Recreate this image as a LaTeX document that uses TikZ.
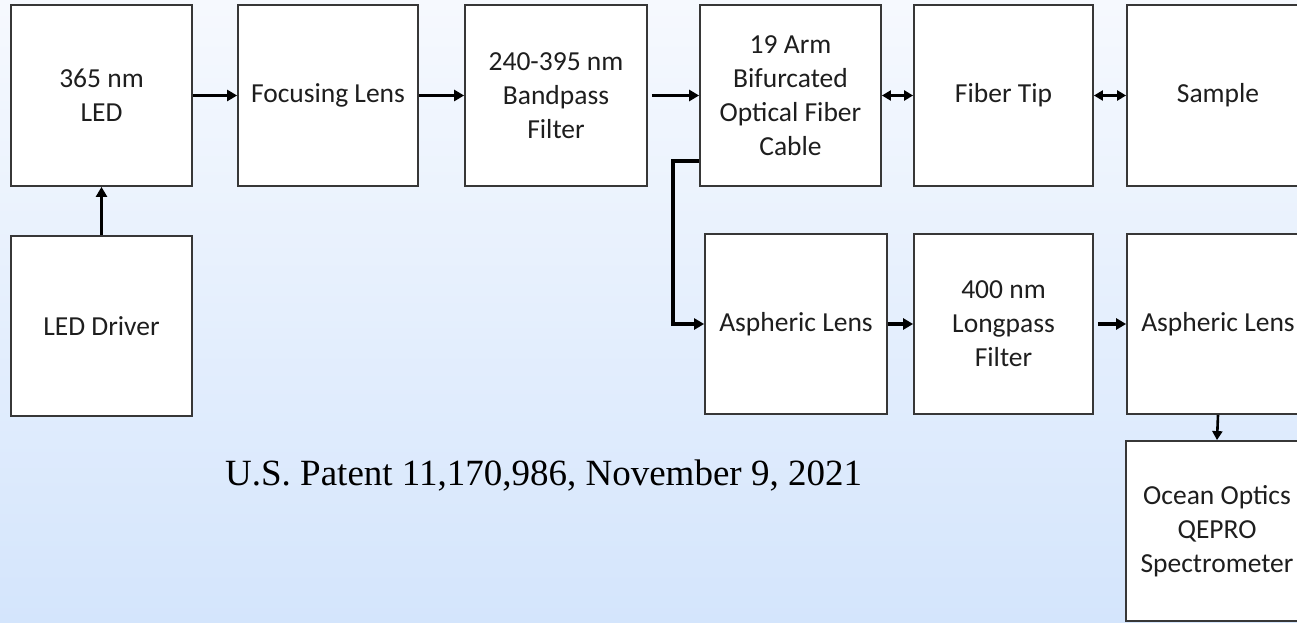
\documentclass[tikz,border=0pt]{standalone}
\usepackage{fontspec}
\setmainfont{Carlito}
\newfontfamily\patentfont{Liberation Serif}
\usetikzlibrary{arrows.meta}
\definecolor{boxc}{RGB}{55,55,55}
\definecolor{textc}{RGB}{30,30,30}
\definecolor{bgtop}{RGB}{246,249,254}
\definecolor{bgbot}{RGB}{212,229,252}
\tikzset{
  box/.style={draw=boxc, line width=1.8pt, fill=white, minimum width=181pt, minimum height=181pt,
    inner sep=0pt, align=center, text=textc, font=\fontsize{27.5}{34}\selectfont},
  arr/.style={line width=3.4pt, -{Triangle[length=10pt,width=11pt]}},
  darr/.style={line width=2.6pt, {Triangle[length=9pt,width=10pt]}-{Triangle[length=9pt,width=10pt]}},
  tarr/.style={line width=2.6pt, -{Triangle[length=9pt,width=10pt]}},
}
\begin{document}
\begin{tikzpicture}[x=1pt,y=-1pt]
\useasboundingbox (0,0) rectangle (1297,623);
\shade[top color=bgtop, bottom color=bgbot] (0,0) rectangle (1297,623);
\clip (0,0) rectangle (1297,623);
\node[box] (led) at (101.5,95.5) {365 nm\\LED};
\node[box, minimum width=180pt] (focus) at (328,95.5) {Focusing Lens};
\node[box, minimum width=182pt] (band) at (556,95.5) {240-395 nm\\Bandpass\\Filter};
\node[box] (bif) at (790.5,95.5) {19 Arm\\Bifurcated\\Optical Fiber\\Cable};
\node[box, minimum width=179pt] (tip) at (1003.5,95.5) {Fiber Tip};
\node[box, minimum width=182pt] (sample) at (1218,95.5) {Sample};
\node[box, minimum height=180pt] (driver) at (101.5,326) {LED Driver};
\node[box, minimum width=182pt, minimum height=180pt] (asph1) at (796,324) {Aspheric Lens};
\node[box, minimum width=179pt, minimum height=180pt] (lp) at (1003.5,324) {400 nm\\Longpass\\Filter};
\node[box, minimum width=182pt, minimum height=180pt] (asph2) at (1218,324) {Aspheric Lens};
\node[box, minimum width=182pt, minimum height=180pt] (spec) at (1217,531) {Ocean Optics\\QEPRO\\Spectrometer};
\node[anchor=base west, inner sep=0pt, font=\patentfont\fontsize{37}{42}\selectfont, text=black] (pat) at (225,485) {U.S. Patent 11,170,986, November 9, 2021};
\draw[arr] (led.east) -- (focus.west);
\draw[arr] (driver.north) -- (led.south);
\draw[arr] (focus.east) -- (band.west);
\draw[arr, shorten <=4pt] (band.east) -- (bif.west);
\draw[darr] (bif.east) -- (tip.west);
\draw[darr] (tip.east) -- (sample.west);
\coordinate (bend) at (673,161);
\draw[arr] (bend -| bif.west) -- (bend) |- (asph1.west);
\draw[arr] (asph1.east) -- (lp.west);
\draw[arr, shorten <=4pt] (lp.east) -- (asph2.west);
\draw[tarr] (asph2.south) -- (spec.north);
\end{tikzpicture}
\end{document}
